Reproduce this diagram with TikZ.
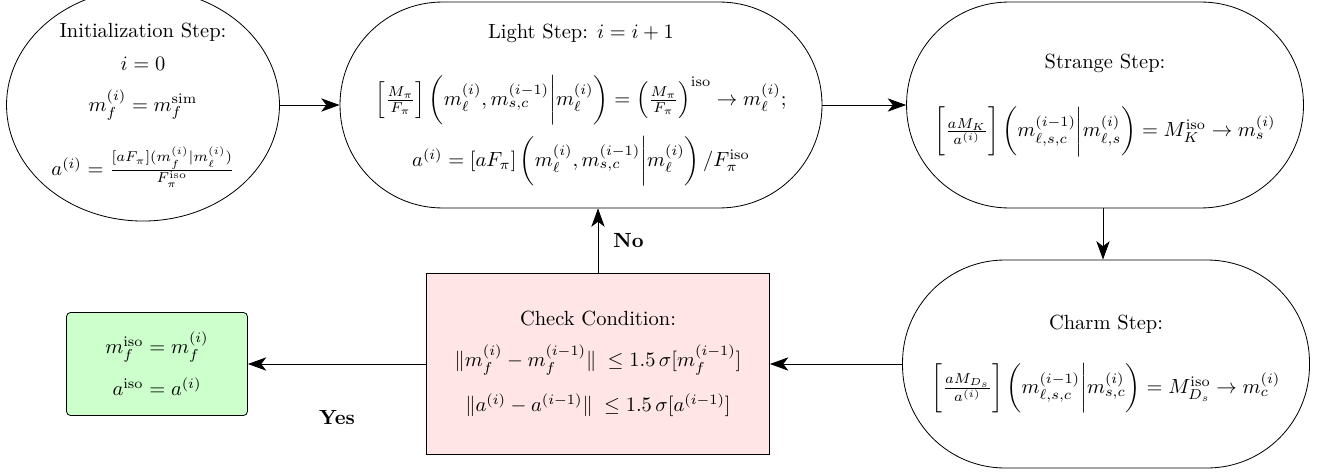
\documentclass[tikz,border=0pt]{standalone}
\usetikzlibrary{arrows.meta,shapes.geometric}
\newcommand{\bparen}[1]{\mathinner{\biggl(#1\biggr)}}
\newcommand{\Bbrack}[1]{\mathinner{\Bigl[#1\Bigr]}}
\newcommand{\bbrack}[1]{\mathinner{\biggl[#1\biggr]}}
\begin{document}
\begin{tikzpicture}[x=0.488pt,y=-0.488pt,
  every node/.style={align=center},
  arr/.style={-{Stealth[length=9pt,width=6.5pt,inset=2.5pt]}},
  stadium/.style={draw, rectangle, rounded corners=50pt, minimum height=100.5pt, inner sep=0pt},
  ovalbox/.style={draw, ellipse, minimum width=133.2pt, minimum height=100.5pt, inner sep=0pt},
  checkbox/.style={draw, rectangle, fill=red!10, minimum width=167.4pt, minimum height=88.3pt, inner sep=0pt},
  resultbox/.style={draw, rectangle, rounded corners=2pt, fill=green!20, minimum width=88.3pt, minimum height=50.3pt, inner sep=0pt},
  lab/.style={font=\bfseries}]
\useasboundingbox (0,0) rectangle (1317,474);

\node[ovalbox] (init) at (143,105) {Initialization Step:\\[4pt] $i=0$\\[8pt] $m_f^{(i)} = m_f^{\mathrm{sim}}$\\[12pt] $a^{(i)} = \frac{[aF_\pi](m_f^{(i)}|m_\ell^{(i)})}{F_\pi^{\mathrm{iso}}}$};

\node[stadium, minimum width=235.2pt] (light) at (581,105) {Light Step: $i=i+1$\\[15pt]
$\Bbrack{\frac{M_\pi}{F_\pi}}\bparen{m_\ell^{(i)}, m_{s,c}^{(i-1)}\bigg|m_\ell^{(i)}} = \left(\frac{M_\pi}{F_\pi}\right)^{\mathrm{iso}} \to m_\ell^{(i)};$\\[5pt]
$a^{(i)} = [aF_\pi]\bparen{m_\ell^{(i)}, m_{s,c}^{(i-1)}\bigg|m_\ell^{(i)}}/F_\pi^{\mathrm{iso}}$};

\node[stadium, minimum width=193.7pt] (strange) at (1105,105) {Strange Step:\\[16pt]
$\bbrack{\frac{aM_K}{a^{(i)}}}\bparen{m_{\ell,s,c}^{(i-1)}\bigg|m_{\ell,s}^{(i)}} = M_K^{\mathrm{iso}} \to m_s^{(i)}$};

\node[stadium, minimum width=198.6pt, minimum height=101.5pt] (charm) at (1106,364) {Charm Step:\\[14pt]
$\bbrack{\frac{aM_{D_s}}{a^{(i)}}}\bparen{m_{\ell,s,c}^{(i-1)}\bigg|m_{s,c}^{(i)}} = M_{D_s}^{\mathrm{iso}} \to m_c^{(i)}$};

\node[checkbox] (check) at (598,364) {Check Condition:\\[8pt]
$\|m_f^{(i)} - m_f^{(i-1)}\| \;\leq 1.5\,\sigma[m_f^{(i-1)}]$\\[8pt]
$\|a^{(i)} - a^{(i-1)}\| \;\leq 1.5\,\sigma[a^{(i-1)}]$};

\node[resultbox] (result) at (157,364) {$m_f^{\mathrm{iso}} = m_f^{(i)}$\\[6.5pt] $a^{\mathrm{iso}} = a^{(i)}$};

\draw[arr] (init) -- (light);
\draw[arr] (light) -- (strange);
\draw[arr] (strange.south -| 1103,0) -- (charm.north -| 1103,0);
\draw[arr] (charm) -- (check);
\draw[arr] (check) -- node[lab, midway, yshift=-26pt] {Yes} (result);
\draw[arr] (check) -- node[lab, midway, right=4pt] {No} (light.south -| check);
\end{tikzpicture}
\end{document}
